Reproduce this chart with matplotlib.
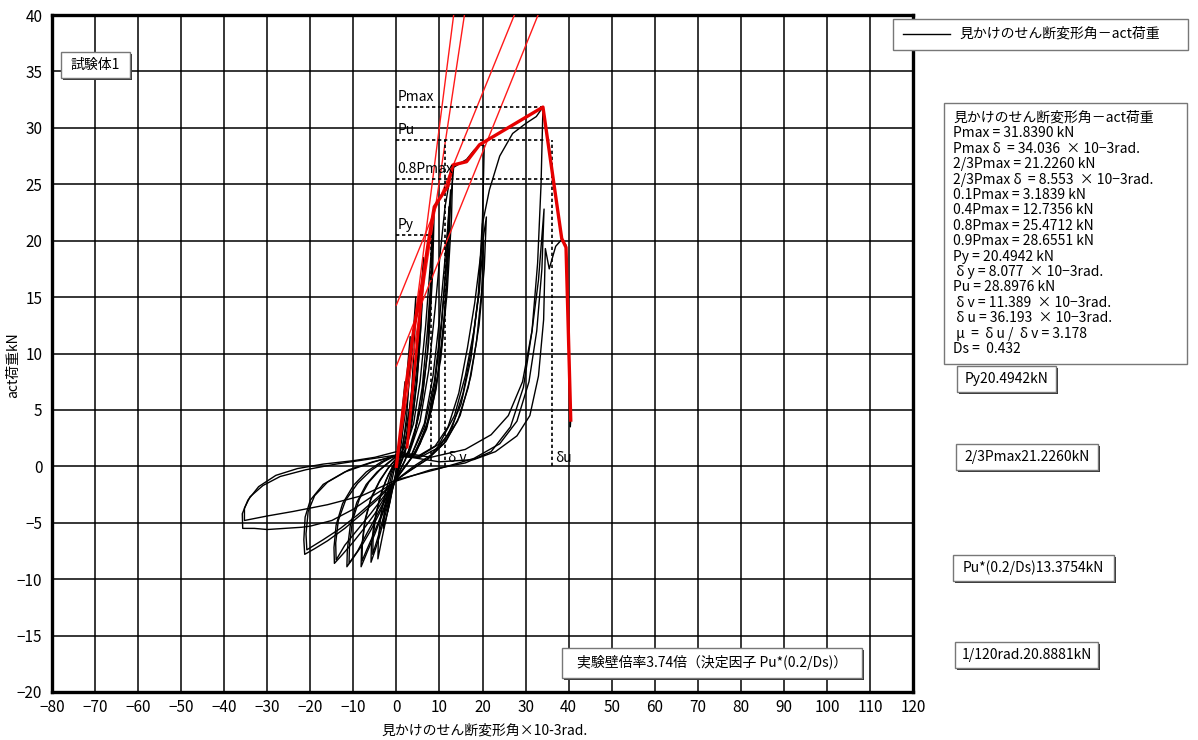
"""Shear deformation angle vs. act load hysteresis, specimen 1."""

import matplotlib
matplotlib.use("Agg")
import matplotlib.pyplot as plt
from matplotlib.lines import Line2D
from matplotlib.patches import Rectangle
from matplotlib.ticker import MultipleLocator

plt.rcParams["font.family"] = ["Noto Sans CJK JP", "DejaVu Sans"]

W, H = 1198, 740

# characteristic values (kN, x10^-3 rad)
p_max = 31.8390
d_pmax = 34.036
p_u = 28.8976
p_08max = 25.4712
p_y = 20.4942
d_y = 8.077
d_v = 11.389
d_u = 36.193

# hysteresis loops: (angle, load)
cycle_01 = [(0.0, -0.5), (0.8, 2.5), (1.5, 5.5), (2.0, 7.5), (1.8, 5.0), (1.3, 2.5), (0.5, 0.5), (0.0, -0.3),
            (-0.8, -1.8), (-1.5, -3.2), (-2.0, -4.0), (-1.8, -2.8), (-1.2, -1.5), (-0.5, -0.3), (0.0, 0.3)]
cycle_02 = [(0.0, 0.3), (1.0, 2.5), (2.2, 7.0), (3.2, 11.5), (3.0, 8.0), (2.4, 4.5), (1.4, 1.5), (0.4, 0.0),
            (0.0, -0.5), (-1.0, -2.0), (-2.0, -4.0), (-3.0, -5.5), (-2.8, -4.0), (-2.0, -2.2), (-1.0, -0.6),
            (0.0, 0.4)]
cycle_03 = [(0.0, 0.4), (1.2, 2.5), (2.5, 5.8), (3.6, 10.0), (4.5, 15.0), (4.2, 11.0), (3.5, 6.5), (2.4, 3.0),
            (1.0, 0.6), (0.0, -0.8), (-1.0, -2.2), (-2.2, -4.3), (-3.3, -6.3), (-4.3, -8.2), (-4.2, -6.5),
            (-3.6, -4.3), (-2.5, -2.2), (-1.2, -0.5), (0.0, 0.5)]
cycle_04 = [(0.0, 0.5), (1.5, 2.0), (3.0, 5.0), (4.5, 9.5), (5.5, 14.0), (6.3, 18.5), (6.0, 14.5), (5.2, 9.5),
            (4.0, 5.0), (2.5, 2.0), (1.0, 0.3), (0.0, -0.9), (-1.2, -2.3), (-2.6, -4.3), (-4.0, -6.3),
            (-5.0, -7.5), (-5.9, -8.5), (-5.8, -7.0), (-5.2, -5.0), (-4.0, -3.0), (-2.5, -1.3), (-1.0, -0.1),
            (0.0, 0.6)]
cycle_05 = [(0.0, 0.6), (1.8, 1.6), (3.5, 4.5), (4.8, 9.0), (5.5, 12.5), (6.0, 16.5), (5.7, 12.5), (4.8, 7.5),
            (3.5, 3.5), (2.0, 1.2), (0.5, -0.3), (0.0, -0.9), (-1.5, -2.4), (-3.0, -4.5), (-4.3, -6.3),
            (-5.5, -7.8), (-5.4, -6.2), (-4.7, -4.2), (-3.4, -2.2), (-1.8, -0.7), (0.0, 0.5)]
cycle_06 = [(0.0, 0.5), (2.0, 1.4), (4.0, 3.8), (5.5, 7.5), (6.8, 12.5), (7.8, 17.5), (8.8, 23.0), (8.4, 17.0),
            (7.5, 11.0), (6.0, 6.0), (4.0, 2.5), (2.0, 0.5), (0.0, -1.0), (-1.5, -2.4), (-3.2, -4.2),
            (-5.0, -6.0), (-6.8, -7.6), (-8.2, -8.9), (-8.1, -7.3), (-7.4, -5.0), (-6.0, -3.0), (-4.0, -1.4),
            (-2.0, -0.2), (0.0, 0.7)]
cycle_07 = [(0.0, 0.7), (2.5, 1.0), (4.5, 3.5), (6.0, 7.0), (7.2, 12.0), (8.0, 16.5), (8.4, 20.5), (8.1, 15.5),
            (7.2, 10.0), (5.8, 5.5), (3.8, 2.2), (1.8, 0.4), (0.0, -1.0), (-1.8, -2.5), (-3.5, -4.3),
            (-5.4, -6.1), (-7.0, -7.5), (-8.0, -8.4), (-7.9, -6.8), (-7.2, -4.6), (-5.8, -2.7), (-3.8, -1.2),
            (-1.8, -0.1), (0.0, 0.7)]
cycle_08 = [(0.0, 0.7), (3.0, 1.2), (5.5, 4.0), (7.5, 8.5), (9.0, 14.0), (10.2, 19.0), (11.3, 23.0), (12.2, 25.0),
            (13.1, 26.7), (12.8, 22.0), (11.8, 15.5), (10.3, 9.5), (8.2, 5.0), (5.5, 2.0), (3.0, 0.5), (0.0, -1.0),
            (-2.0, -2.5), (-4.0, -4.2), (-6.0, -5.7), (-8.0, -7.0), (-10.0, -8.1), (-11.5, -8.9), (-11.4, -7.4),
            (-10.7, -5.2), (-9.2, -3.2), (-7.0, -1.6), (-4.5, -0.5), (-2.0, 0.3), (0.0, 0.9)]
cycle_09 = [(0.0, 0.9), (3.5, 1.0), (6.5, 3.8), (8.5, 8.0), (10.0, 13.0), (11.2, 18.0), (12.0, 21.5), (12.6, 24.5),
            (12.2, 19.5), (11.2, 13.5), (9.6, 8.0), (7.4, 4.0), (4.8, 1.5), (2.5, 0.2), (0.0, -1.1), (-2.2, -2.6),
            (-4.5, -4.3), (-6.8, -5.9), (-9.0, -7.5), (-11.0, -8.6), (-10.9, -7.0), (-10.2, -4.8), (-8.6, -2.9),
            (-6.4, -1.4), (-3.8, -0.3), (-1.5, 0.4), (0.0, 0.9)]
cycle_10 = [(0.0, 0.9), (4.0, 1.0), (7.0, 3.5), (9.0, 7.5), (10.5, 12.5), (11.5, 17.5), (12.2, 23.0), (11.8, 17.0),
            (10.8, 11.5), (9.2, 6.8), (7.0, 3.3), (4.5, 1.2), (2.0, 0.0), (0.0, -1.1), (-2.5, -2.6), (-5.0, -4.2),
            (-7.5, -5.5), (-10.0, -6.7), (-12.5, -7.8), (-14.4, -8.6), (-14.5, -7.2), (-14.0, -5.2), (-12.5, -3.3),
            (-10.0, -1.7), (-7.0, -0.5), (-3.5, 0.4), (0.0, 1.0)]
cycle_11 = [(0.0, 1.0), (3.5, 1.0), (6.5, 3.5), (8.8, 7.5), (10.5, 13.0), (11.8, 19.0), (12.7, 24.0), (13.3, 26.5),
            (15.0, 26.9), (16.3, 27.2), (18.0, 28.0), (19.5, 28.5), (20.4, 28.4), (20.0, 22.0), (19.0, 15.0),
            (17.3, 9.5), (15.0, 5.5), (12.0, 2.8), (8.0, 1.0), (4.0, 0.0), (0.0, -1.2), (-3.0, -2.7), (-6.0, -4.2),
            (-9.0, -5.6), (-12.0, -7.0), (-14.0, -8.3), (-14.1, -6.8), (-13.5, -4.8), (-11.8, -3.0), (-9.0, -1.5),
            (-6.0, -0.4), (-3.0, 0.4), (0.0, 1.0)]
cycle_12 = [(0.0, 1.0), (5.0, 0.9), (9.0, 1.8), (12.0, 3.5), (14.5, 6.5), (16.5, 10.5), (18.2, 14.5), (19.5, 18.5),
            (20.9, 22.1), (20.4, 17.5), (19.2, 12.5), (17.3, 8.0), (14.8, 4.5), (11.5, 2.2), (7.5, 0.7), (3.5, -0.3),
            (0.0, -1.2), (-4.0, -2.8), (-8.0, -4.2), (-12.0, -5.5), (-16.0, -6.6), (-19.0, -7.3), (-21.3, -7.8),
            (-21.5, -6.5), (-21.2, -4.5), (-20.0, -3.0), (-17.0, -1.6), (-12.0, -0.5), (-6.0, 0.3), (0.0, 1.0)]
cycle_13 = [(0.0, 0.9), (5.5, 0.8), (10.0, 1.7), (13.0, 3.5), (15.5, 6.5), (17.5, 10.5), (19.0, 15.0), (20.3, 20.0),
            (19.8, 15.5), (18.6, 11.0), (16.7, 7.0), (14.2, 4.0), (11.0, 2.0), (7.0, 0.6), (3.0, -0.4), (0.0, -1.2),
            (-4.5, -2.8), (-9.0, -4.3), (-13.0, -5.5), (-17.0, -6.5), (-20.8, -7.4), (-21.0, -6.0), (-20.5, -4.0),
            (-19.0, -2.6), (-16.0, -1.4), (-11.0, -0.3), (-5.5, 0.4), (0.0, 0.9)]
cycle_14 = [(0.0, 0.9), (5.0, 0.8), (10.0, 2.0), (13.5, 4.5), (16.0, 8.0), (18.0, 12.0), (19.3, 15.6), (20.0, 21.5),
            (21.6, 24.5), (24.0, 27.5), (27.0, 29.5), (30.1, 30.4), (32.5, 31.0), (34.04, 31.84), (33.6, 25.0),
            (32.8, 18.0), (31.5, 12.0), (29.5, 7.0), (26.5, 3.5), (22.0, 1.3), (16.0, 0.3), (8.0, -0.3), (0.0, -1.3),
            (-5.0, -2.5), (-10.0, -3.8), (-15.0, -4.8), (-20.0, -5.3), (-22.0, -5.4), (-26.0, -5.5), (-30.0, -5.6),
            (-33.0, -5.5), (-35.7, -5.5), (-35.8, -4.2), (-34.5, -3.0), (-32.0, -1.8), (-28.0, -0.8), (-23.0, -0.2),
            (-17.0, 0.2), (-10.0, 0.5), (-5.0, 0.8), (0.0, 1.3)]
cycle_15 = [(0.0, 1.3), (8.0, 0.8), (16.0, 1.5), (22.0, 2.8), (26.0, 4.5), (29.3, 7.5), (31.5, 12.0), (33.0, 16.5),
            (34.3, 22.8), (33.8, 17.5), (32.6, 12.0), (30.8, 7.5), (28.0, 4.0), (24.0, 2.0), (18.0, 0.7),
            (10.0, -0.2), (0.0, -1.2), (-8.0, -2.6), (-16.0, -3.4), (-24.0, -4.0), (-30.0, -4.4), (-35.3, -4.8),
            (-35.3, -3.7), (-34.0, -2.7), (-31.0, -1.7), (-27.0, -0.9), (-21.0, -0.3), (-14.0, 0.2), (-7.0, 0.6),
            (0.0, 1.0)]
cycle_16 = [(0.0, 1.0), (10.0, 0.4), (18.0, 0.6), (23.0, 1.3), (28.0, 2.7), (31.0, 4.5), (33.0, 8.0), (34.2, 13.0),
            (34.6, 19.3), (35.5, 17.5), (37.0, 19.5), (38.4, 20.1), (39.4, 19.6), (40.0, 12.0), (40.4, 3.5),
            (40.5, 4.2)]

# skeleton (red) and evaluation lines
envelope_x = [0.0, 2.0, 4.0, 6.1, 7.4, 8.8, 11.9, 13.1, 16.3, 19.3, 34.04, 38.4, 39.4, 40.5]
envelope_y = [0.0, 6.5, 12.0, 16.5, 19.8, 23.0, 24.8, 26.7, 27.0, 28.5, 31.84, 20.2, 19.4, 4.1]
envelope2_x = [2.5, 6.3]
envelope2_y = [1.7, 16.8]
line_i = [(0.0, 0.2), (13.3, 40.0)]
line_k = [(0.0, 0.0), (15.8, 40.0)]
line_ii = [(0.0, 8.9), (32.9, 40.0)]
line_iii = [(0.0, 14.3), (27.4, 40.0)]

stats_lines = [
    "見かけのせん断変形角－act荷重",
    "Pmax = 31.8390 kN",
    "Pmax δ  = 34.036  × 10−3rad.",
    "2/3Pmax = 21.2260 kN",
    "2/3Pmax δ  = 8.553  × 10−3rad.",
    "0.1Pmax = 3.1839 kN",
    "0.4Pmax = 12.7356 kN",
    "0.8Pmax = 25.4712 kN",
    "0.9Pmax = 28.6551 kN",
    "Py = 20.4942 kN",
    " δ y = 8.077  × 10−3rad.",
    "Pu = 28.8976 kN",
    " δ v = 11.389  × 10−3rad.",
    " δ u = 36.193  × 10−3rad.",
    " μ  =  δ u /  δ v = 3.178",
    "Ds =  0.432",
]


def fx(px):
    return px / W


def fy(py):
    return 1 - py / H


def text_box(fig, x0, y0, x1, y1, label, shadow=True, fontsize=10):
    if shadow:
        fig.add_artist(Rectangle((fx(x0 + 2), fy(y1 + 2)), (x1 - x0) / W, (y1 - y0) / H,
                                 transform=fig.transFigure, facecolor="#333333", edgecolor="none", zorder=5))
    fig.add_artist(Rectangle((fx(x0), fy(y1)), (x1 - x0) / W, (y1 - y0) / H, transform=fig.transFigure,
                             facecolor="white", edgecolor="#777777", lw=1.0, zorder=6))
    if label:
        fig.text(fx((x0 + x1) / 2), fy((y0 + y1) / 2), label, ha="center", va="center",
                 fontsize=fontsize, zorder=7)


def main() -> None:
    fig = plt.figure(figsize=(W / 100, H / 100), dpi=100)
    ax = fig.add_axes([fx(52), fy(692), (913 - 52) / W, (692 - 15) / H])

    cycles = [cycle_01, cycle_02, cycle_03, cycle_04, cycle_05, cycle_06, cycle_07, cycle_08,
              cycle_09, cycle_10, cycle_11, cycle_12, cycle_13, cycle_14, cycle_15, cycle_16]
    for cyc in cycles:
        xs, ys = zip(*cyc)
        ax.plot(xs, ys, color="black", lw=1.0, zorder=3)

    # evaluation lines
    for seg in (line_i, line_k, line_ii, line_iii):
        xs, ys = zip(*seg)
        ax.plot(xs, ys, color="#ff1a1a", lw=1.0, zorder=4)
    ax.plot(envelope_x, envelope_y, color="#e60000", lw=2.4, zorder=5)
    ax.plot(envelope2_x, envelope2_y, color="#e60000", lw=2.0, zorder=5)

    dash = dict(color="black", lw=1.2, ls=(0, (2, 1.6)), zorder=4)
    ax.plot([0, d_pmax], [p_max, p_max], **dash)
    ax.plot([0, d_u], [p_u, p_u], **dash)
    ax.plot([0, d_u], [p_08max, p_08max], **dash)
    ax.plot([0, d_y], [p_y, p_y], **dash)
    ax.plot([d_y, d_y], [0, p_y], **dash)
    ax.plot([d_v, d_v], [0, p_u], **dash)
    ax.plot([d_u, d_u], [0, p_u], **dash)

    lab = dict(fontsize=10, ha="left", va="bottom", zorder=6)
    ax.text(0.3, p_max + 0.3, "Pmax", **lab)
    ax.text(0.3, p_u + 0.3, "Pu", **lab)
    ax.text(0.3, p_08max + 0.3, "0.8Pmax", **lab)
    ax.text(0.3, p_y + 0.3, "Py", **lab)
    ax.text(d_v + 0.6, 0.1, "δ v", **lab)
    ax.text(d_u + 0.6, 0.1, "δu", **lab)

    ax.set_xlim(-80, 120)
    ax.set_ylim(-20, 40)
    ax.xaxis.set_major_locator(MultipleLocator(10))
    ax.yaxis.set_major_locator(MultipleLocator(5))
    ax.grid(True, color="black", lw=1.1)
    ax.set_axisbelow(True)
    ax.tick_params(length=0, labelsize=11)
    ax.tick_params(axis="y", pad=7)
    ax.tick_params(axis="x", pad=5)
    for sp in ax.spines.values():
        sp.set_linewidth(2.4)

    fig.text(fx(485), fy(731), "見かけのせん断変形角×10-3rad.", ha="center", va="center", fontsize=10)
    fig.text(fx(13), fy(365), "act荷重kN", ha="center", va="center", rotation=90, fontsize=10)

    # legend box
    text_box(fig, 893, 19, 1188, 50, "", shadow=False)
    fig.add_artist(Line2D([fx(903), fx(950)], [fy(34), fy(34)], transform=fig.transFigure,
                          color="black", lw=1.0, zorder=7))
    fig.text(fx(959), fy(34), "見かけのせん断変形角－act荷重", ha="left", va="center", fontsize=10, zorder=7)

    # result summary
    text_box(fig, 944, 103, 1187, 364, "", shadow=False)
    for i, line in enumerate(stats_lines):
        fig.text(fx(953), fy(118 + i * 15.4), line, ha="left", va="center", fontsize=10, zorder=7)

    text_box(fig, 61, 52, 130, 78, "試験体1")
    text_box(fig, 957, 366, 1056, 392, "Py20.4942kN")
    text_box(fig, 956, 444, 1098, 470, "2/3Pmax21.2260kN")
    text_box(fig, 953, 555, 1114, 581, "Pu*(0.2/Ds)13.3754kN")
    text_box(fig, 955, 642, 1098, 668, "1/120rad.20.8881kN")
    text_box(fig, 562, 648, 862, 678, "実験壁倍率3.74倍（決定因子 Pu*(0.2/Ds)）")

    fig.savefig("out.png", dpi=100)
    plt.close(fig)


if __name__ == "__main__":
    main()
